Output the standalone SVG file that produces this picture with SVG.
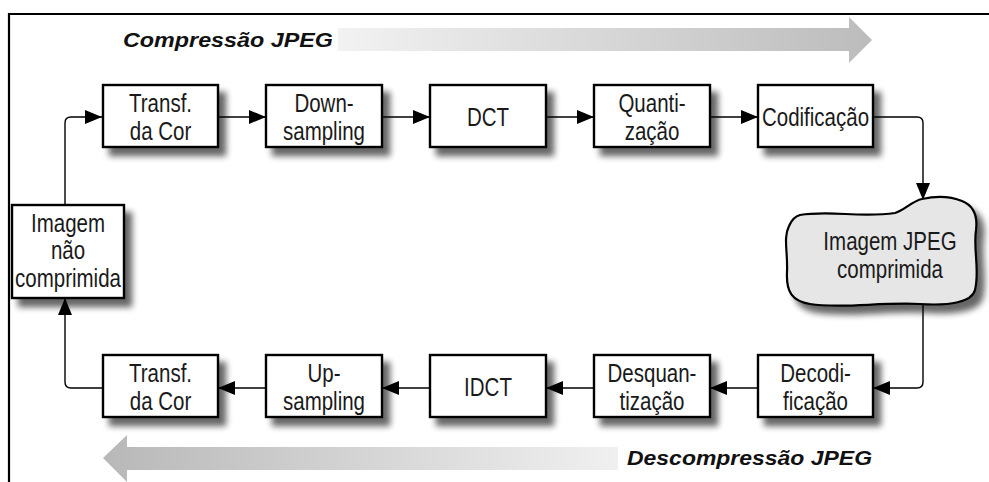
<svg xmlns="http://www.w3.org/2000/svg" width="989" height="482" viewBox="0 0 989 482">
  <style>
    .box { fill: #ffffff; stroke: #000000; stroke-width: 2.4; }
    .lbl { font-family: "Liberation Sans", Arial, sans-serif; font-size: 25px; fill: #1a1a1a; text-anchor: middle; }
    .title { font-family: "Liberation Sans", Arial, sans-serif; font-size: 21px; font-weight: bold; font-style: italic; fill: #111111; }
    .wire { fill: none; stroke: #000000; stroke-width: 1.4; marker-end: url(#head); }
    .frame { fill: none; stroke: #000000; stroke-width: 2.2; }
  </style>
  <defs>
    <marker id="head" markerUnits="userSpaceOnUse" markerWidth="17" markerHeight="14" refX="17" refY="7" orient="auto">
      <path d="M0,0 L17,7 L0,14 z" fill="#000000"/>
    </marker>
    <filter id="shadow" x="-20%" y="-20%" width="150%" height="160%">
      <feGaussianBlur in="SourceAlpha" stdDeviation="3"/>
      <feOffset dx="7" dy="8" result="off"/>
      <feComponentTransfer><feFuncA type="linear" slope="0.6"/></feComponentTransfer>
      <feMerge><feMergeNode/><feMergeNode in="SourceGraphic"/></feMerge>
    </filter>
    <linearGradient id="gradRight" x1="0" y1="0" x2="1" y2="0">
      <stop offset="0" stop-color="#f2f2f2"/>
      <stop offset="1" stop-color="#bcbcbc"/>
    </linearGradient>
    <linearGradient id="gradLeft" x1="0" y1="0" x2="1" y2="0">
      <stop offset="0" stop-color="#b8b8b8"/>
      <stop offset="1" stop-color="#f0f0f0"/>
    </linearGradient>
  </defs>

  <rect width="989" height="482" fill="#ffffff"/>

  <!-- outer frame: top and left rules -->
  <path class="frame" d="M9 482 L9 14 L989 14"/>

  <!-- direction banners -->
  <g id="banner-compress">
    <path d="M338 28 L849 28 L849 17 L872 40 L849 63 L849 51 L338 51 Z" fill="url(#gradRight)"/>
    <text class="title" x="123" y="47" textLength="210" lengthAdjust="spacingAndGlyphs">Compressão JPEG</text>
  </g>
  <g id="banner-decompress">
    <path d="M618 447 L127 447 L127 435 L103 458 L127 482 L127 470 L618 470 Z" fill="url(#gradLeft)"/>
    <text class="title" x="627" y="465" textLength="245" lengthAdjust="spacingAndGlyphs">Descompressão JPEG</text>
  </g>

  <!-- connectors -->
  <g id="connectors">
    <path class="wire" d="M65 205 L65 123 Q65 117 71 117 L102 117"/>
    <path class="wire" d="M218 117 L266 117"/>
    <path class="wire" d="M382 117 L430 117"/>
    <path class="wire" d="M546 117 L594 117"/>
    <path class="wire" d="M710 117 L758 117"/>
    <path class="wire" d="M873 117 L917 117 Q923 117 923 123 L923 200"/>
    <path class="wire" d="M923 304 L923 382 Q923 388 917 388 L873 388"/>
    <path class="wire" d="M758 388 L710 388"/>
    <path class="wire" d="M594 388 L546 388"/>
    <path class="wire" d="M430 388 L382 388"/>
    <path class="wire" d="M266 388 L218 388"/>
    <path class="wire" d="M102 388 L71 388 Q65 388 65 382 L65 298"/>
  </g>

  <!-- compression row -->
  <g id="transf-cor-1">
    <rect class="box" x="103" y="85" width="115" height="62" filter="url(#shadow)"/>
    <g transform="translate(160.5 0) scale(0.82 1)">
      <text class="lbl" x="0" y="112">Transf.</text>
      <text class="lbl" x="0" y="140">da Cor</text>
    </g>
  </g>
  <g id="downsampling">
    <rect class="box" x="266" y="85" width="116" height="62" filter="url(#shadow)"/>
    <g transform="translate(324 0) scale(0.82 1)">
      <text class="lbl" x="0" y="112">Down-</text>
      <text class="lbl" x="0" y="140">sampling</text>
    </g>
  </g>
  <g id="dct">
    <rect class="box" x="430" y="85" width="116" height="62" filter="url(#shadow)"/>
    <g transform="translate(488 0) scale(0.82 1)">
      <text class="lbl" x="0" y="126">DCT</text>
    </g>
  </g>
  <g id="quantizacao">
    <rect class="box" x="594" y="85" width="116" height="62" filter="url(#shadow)"/>
    <g transform="translate(652 0) scale(0.82 1)">
      <text class="lbl" x="0" y="112">Quanti-</text>
      <text class="lbl" x="0" y="140">zação</text>
    </g>
  </g>
  <g id="codificacao">
    <rect class="box" x="758" y="85" width="115" height="62" filter="url(#shadow)"/>
    <g transform="translate(815.5 0) scale(0.82 1)">
      <text class="lbl" x="0" y="126">Codificação</text>
    </g>
  </g>

  <!-- source image -->
  <g id="imagem-nao-comprimida">
    <rect class="box" x="12" y="205" width="112" height="93" filter="url(#shadow)"/>
    <g transform="translate(68 0) scale(0.82 1)">
      <text class="lbl" x="0" y="232">Imagem</text>
      <text class="lbl" x="0" y="259">não</text>
      <text class="lbl" x="0" y="287">comprimida</text>
    </g>
  </g>

  <!-- compressed file -->
  <g id="imagem-jpeg-comprimida">
    <path d="M800 215 C830 210 860 218 895 213 C905 210 912 201 922 199 C935 196 950 196 962 201 C972 205 978 214 976 230 C973 250 980 270 975 290 C972 302 950 306 920 304 C880 302 840 309 810 304 C792 301 786 292 787 272 C788 252 783 238 789 226 C792 219 796 216 800 215 Z" fill="#e6e6e6" stroke="#000000" stroke-width="2.2" filter="url(#shadow)"/>
    <g transform="translate(890 0) scale(0.82 1)">
      <text class="lbl" x="0" y="250">Imagem JPEG</text>
      <text class="lbl" x="0" y="278">comprimida</text>
    </g>
  </g>

  <!-- decompression row -->
  <g id="transf-cor-2">
    <rect class="box" x="103" y="355" width="115" height="62" filter="url(#shadow)"/>
    <g transform="translate(160.5 0) scale(0.82 1)">
      <text class="lbl" x="0" y="382">Transf.</text>
      <text class="lbl" x="0" y="410">da Cor</text>
    </g>
  </g>
  <g id="upsampling">
    <rect class="box" x="266" y="355" width="116" height="62" filter="url(#shadow)"/>
    <g transform="translate(324 0) scale(0.82 1)">
      <text class="lbl" x="0" y="382">Up-</text>
      <text class="lbl" x="0" y="410">sampling</text>
    </g>
  </g>
  <g id="idct">
    <rect class="box" x="430" y="355" width="116" height="62" filter="url(#shadow)"/>
    <g transform="translate(488 0) scale(0.82 1)">
      <text class="lbl" x="0" y="396">IDCT</text>
    </g>
  </g>
  <g id="desquantizacao">
    <rect class="box" x="594" y="355" width="116" height="62" filter="url(#shadow)"/>
    <g transform="translate(652 0) scale(0.82 1)">
      <text class="lbl" x="0" y="382">Desquan-</text>
      <text class="lbl" x="0" y="410">tização</text>
    </g>
  </g>
  <g id="decodificacao">
    <rect class="box" x="758" y="355" width="115" height="62" filter="url(#shadow)"/>
    <g transform="translate(815.5 0) scale(0.82 1)">
      <text class="lbl" x="0" y="382">Decodi-</text>
      <text class="lbl" x="0" y="410">ficação</text>
    </g>
  </g>
</svg>
